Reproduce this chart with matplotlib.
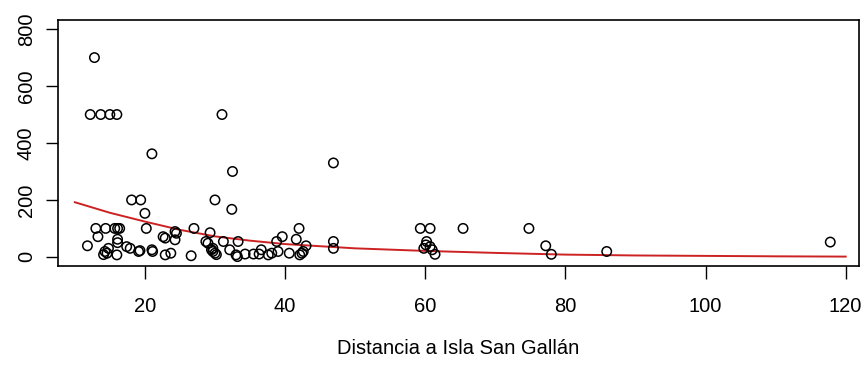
import matplotlib
matplotlib.use("Agg")
from matplotlib import pyplot as plt

# puntos observados (distancia, abundancia)
dist = [12.8, 12.2, 13.7, 15.0, 16.0, 31.0, 21.0, 32.5, 46.9,
        18.1, 19.4, 20.0, 30.0, 32.4,
        13.0, 14.4, 15.7, 16.1, 16.4, 20.2, 27.0, 42.0,
        13.3, 11.8, 16.1, 16.1, 14.3, 14.6, 14.8, 14.1, 16.0, 17.4, 17.9, 19.3, 21.0, 19.1, 21.1,
        22.6, 22.9, 24.3, 24.3, 24.5, 22.9, 23.7, 26.6,
        29.3, 28.7, 29.0, 31.2, 33.3, 29.5, 29.7, 30.0, 29.7, 30.2, 32.1, 33.0, 33.2,
        34.3, 35.5, 36.3, 36.6, 37.6, 38.1, 39.0, 38.8, 39.6, 40.6, 41.6, 43.0, 42.1, 42.4, 42.6,
        46.9, 46.9,
        59.3, 60.7, 65.4, 74.8, 60.2, 60.1, 59.8, 60.7, 61.0, 61.4, 77.2, 78.0,
        85.9, 117.8]
abund = [700, 500, 500, 500, 500, 500, 362, 300, 330,
         200, 200, 153, 200, 167,
         100, 100, 100, 100, 100, 100, 100, 100,
         71, 39, 62, 50, 19, 13, 30, 8, 7, 36, 30, 22, 25, 19, 19,
         71, 66, 89, 60, 83, 7, 13, 4,
         85, 54, 48, 54, 54, 25, 19, 13, 30, 8, 25, 7, 1,
         10, 10, 10, 25, 7, 13, 19, 54, 71, 13, 62, 39, 7, 13, 19,
         54, 30,
         100, 100, 100, 100, 54, 42, 30, 36, 25, 9, 39, 9,
         19, 52]

# curva ajustada
curve_x = [10, 15, 20, 25, 30, 35, 40, 50, 60, 70, 80, 90, 100, 110, 120]
curve_y = [192, 155, 124, 95, 72, 57, 45, 30, 21, 14, 8, 5, 3.5, 2, 1]

plt.rcParams['font.family'] = ['Liberation Sans', 'DejaVu Sans']

fig = plt.figure(figsize=(8.65, 3.70), dpi=100)
ax = fig.add_axes([58 / 865, 1 - 266 / 370, (859 - 58) / 865, (266 - 20) / 370])

ax.scatter(dist, abund, s=46, facecolors='none', edgecolors='black', linewidths=1.1, zorder=3)
ax.plot(curve_x, curve_y, color='#cc2222', linewidth=1.4, zorder=2)

ax.set_xlim(7.6, 121.9)
ax.set_ylim(-32, 832)
ax.set_xticks([20, 40, 60, 80, 100, 120])
ax.set_yticks([0, 200, 400, 600, 800])
ax.set_yticklabels(['0', '200', '400', '600', '800'], rotation=90, va='center')
ax.tick_params(axis='both', direction='out', length=9, width=1.0, labelsize=14.5, pad=13)
ax.tick_params(axis='y', pad=7)
for sp in ax.spines.values():
    sp.set_linewidth(1.2)

ax.set_xlabel("Distancia a Isla San Gallán", fontsize=14.5, labelpad=17)

fig.savefig("out.png", dpi=100)
